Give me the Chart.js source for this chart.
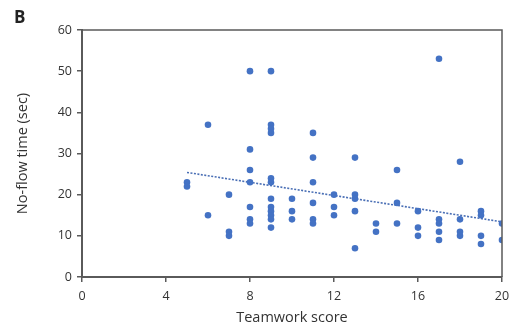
<!DOCTYPE html>
<html>
<head>
<meta charset="utf-8">
<script src="https://cdn.jsdelivr.net/npm/chart.js@4/dist/chart.umd.min.js"></script>
<style>
  html, body { margin: 0; padding: 0; background: #fff; }
  #wrap { width: 510px; height: 333px; position: relative; }
</style>
</head>
<body>
<div id="wrap"><canvas id="c" width="510" height="333"></canvas></div>
<script>
// Teamwork score vs. no-flow time, one entry per observation
const teamworkScore = [
  5, 5,
  6, 6,
  7, 7, 7,
  8, 8, 8, 8, 8, 8, 8,
  9, 9, 9, 9, 9, 9, 9, 9, 9, 9, 9, 9,
  10, 10, 10,
  11, 11, 11, 11, 11, 11,
  12, 12, 12,
  13, 13, 13, 13, 13,
  14, 14,
  15, 15, 15,
  16, 16, 16,
  17, 17, 17, 17, 17,
  18, 18, 18, 18,
  19, 19, 19, 19,
  20, 20
];
const noFlowTime = [
  23, 22,
  37, 15,
  20, 11, 10,
  50, 31, 26, 23, 17, 14, 13,
  50, 37, 36, 35, 24, 23, 19, 17, 16, 15, 14, 12,
  19, 16, 14,
  35, 29, 23, 18, 14, 13,
  20, 17, 15,
  29, 20, 19, 16, 7,
  13, 11,
  26, 18, 13,
  16, 12, 10,
  53, 14, 13, 11, 9,
  28, 14, 11, 10,
  16, 15, 10, 8,
  13, 9
];
// Linear trend line end points
const trendX = [5, 20];
const trendY = [25.4, 13.4];

const xTicks = [0, 4, 8, 12, 16, 20];
const yTicks = [0, 10, 20, 30, 40, 50, 60];

const points = teamworkScore.map((x, i) => ({ x, y: noFlowTime[i] }));
const trend = trendX.map((x, i) => ({ x, y: trendY[i] }));

const FONT = "'Open Sans', 'Liberation Sans', sans-serif";
const AXIS_COLOR = '#5a5a5a';

const framePlugin = {
  id: 'frame',
  afterDraw(chart) {
    const { ctx, chartArea: a } = chart;
    ctx.save();
    ctx.strokeStyle = AXIS_COLOR;
    ctx.lineWidth = 1.5;
    ctx.beginPath();
    ctx.moveTo(a.left, a.top);
    ctx.lineTo(a.right, a.top);
    ctx.lineTo(a.right, a.bottom);
    ctx.stroke();
    ctx.fillStyle = '#222';
    ctx.font = "bold 17px " + FONT;
    ctx.textAlign = 'left';
    ctx.textBaseline = 'middle';
    ctx.fillText('B', 14, 18);
    ctx.restore();
  }
};

new Chart(document.getElementById('c'), {
  type: 'scatter',
  data: {
    datasets: [
      {
        type: 'line',
        data: trend,
        borderColor: '#4a6fb5',
        borderWidth: 1.6,
        borderDash: [2, 1.5],
        pointRadius: 0,
        fill: false,
        order: 2
      },
      {
        data: points,
        backgroundColor: '#4472c4',
        borderWidth: 0,
        pointRadius: 3.3,
        pointHoverRadius: 3.3,
        order: 1
      }
    ]
  },
  options: {
    responsive: false,
    animation: false,
    events: [],
    layout: { padding: { top: 30, right: 8, left: 0, bottom: 0 } },
    plugins: { legend: { display: false }, tooltip: { enabled: false } },
    scales: {
      x: {
        type: 'linear',
        min: 0, max: 20,
        afterBuildTicks(s) { s.ticks = xTicks.map(v => ({ value: v })); },
        afterFit(s) { s.height = 56; s.paddingRight = 0; s.paddingLeft = 0; },
        grid: { drawOnChartArea: false, drawTicks: true, tickLength: 5, color: AXIS_COLOR, lineWidth: 1.5 },
        border: { color: AXIS_COLOR, width: 2 },
        ticks: { color: '#333', font: { family: FONT, size: 12.5 }, padding: 7, maxRotation: 0 },
        title: { display: true, text: 'Teamwork score', color: '#333', font: { family: FONT, size: 14.5 }, padding: { top: 4, bottom: 6 } }
      },
      y: {
        min: 0, max: 60,
        afterBuildTicks(s) { s.ticks = yTicks.map(v => ({ value: v })); },
        afterFit(s) { s.width = 82; },
        grid: { drawOnChartArea: false, drawTicks: true, tickLength: 5, color: AXIS_COLOR, lineWidth: 1.5 },
        border: { color: AXIS_COLOR, width: 2 },
        ticks: { color: '#333', font: { family: FONT, size: 12.5 }, padding: 5 },
        title: { display: true, text: 'No-flow time (sec)', color: '#333', font: { family: FONT, size: 14.5 }, padding: { top: 14, bottom: 2 } }
      }
    }
  },
  plugins: [framePlugin]
});
</script>
</body>
</html>
